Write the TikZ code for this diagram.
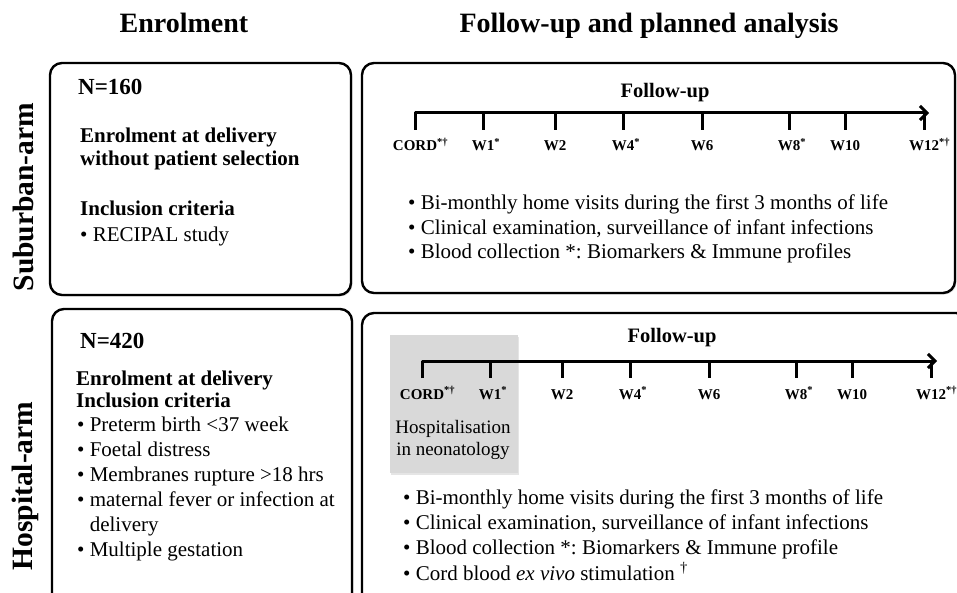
\documentclass[tikz,border=0pt]{standalone}
\usepackage{fontspec}
\setmainfont{Liberation Serif}
\usetikzlibrary{positioning}
\usetikzlibrary{arrows.meta}
\usetikzlibrary{shadows}
\usetikzlibrary{calc}
\usetikzlibrary{math}
\frenchspacing

% offsets of the visits along the follow-up line
\newcommand{\weeklist}{0/CORD\rlap{\textsuperscript{*\textdagger}},
  68/W1\rlap{\textsuperscript{*}}, 140/W2, 208/W4\rlap{\textsuperscript{*}},
  287/W6, 374/W8\rlap{\textsuperscript{*}}, 430/W10,
  509/W12\rlap{\textsuperscript{*\textdagger}}}

\tikzset{
  header/.style={font=\fontsize{28}{30}\selectfont\bfseries, inner sep=0pt},
  armlabel/.style={font=\fontsize{29.5}{31}\selectfont\bfseries, inner sep=0pt, rotate=90},
  countlabel/.style={font=\fontsize{23}{25}\selectfont\bfseries, inner sep=0pt, anchor=base west},
  boldtext/.style={font=\fontsize{21}{23.5}\selectfont\bfseries, inner sep=0pt, anchor=base west, align=left},
  lefttext/.style={font=\fontsize{21}{25}\selectfont, inner sep=0pt, anchor=base west, align=left},
  righttext/.style={font=\fontsize{21}{24.5}\selectfont, inner sep=0pt, anchor=base west, align=left},
  hosptext/.style={font=\fontsize{19}{22}\selectfont, inner sep=0pt, anchor=base, align=center},
  followtitle/.style={font=\fontsize{20.5}{22}\selectfont\bfseries, inner sep=0pt, anchor=base},
  weeklabel/.style={font=\fontsize{15}{16}\selectfont\bfseries, inner sep=0pt, anchor=base},
  armbox/.style={draw, line width=2.4pt, rounded corners=12pt, fill=white,
    drop shadow={opacity=0.25, shadow xshift=1.5pt, shadow yshift=-1.5pt}},
  hospbox/.style={fill=black!15, drop shadow={opacity=0.2, shadow xshift=1pt, shadow yshift=-1.5pt}},
  timeline/.style={line width=3pt, -{Straight Barb[length=7pt, width=14pt]}},
  tick/.style={line width=3pt},
}

\begin{document}
\begin{tikzpicture}[x=1pt, y=-1pt, line join=round]

  \tikzmath{
    \tickdrop = 17; % length of the week ticks
    \labdrop  = 38; % line to baseline of the week labels
  }

  \useasboundingbox (0,0) rectangle (957,593);

  % column headers
  \node[header, anchor=base] (enrolhead)  at (184,33) {Enrolment};
  \node[header, anchor=base] (followhead) at (649,33) {Follow-up and planned analysis};

  % arm labels
  \node[armlabel] (subarm)  at (23,197) {Suburban-arm};
  \node[armlabel] (hosparm) at (25,486) {Hospital-arm};

  % boxes
  \draw[armbox] (50,63)  rectangle (351,295);
  \draw[armbox] (362,63) rectangle (955,293);
  \draw[armbox] (52,309) rectangle (352,610);
  \draw[armbox] (362,313) rectangle (968,610);

  % suburban arm, enrolment (multi-line nodes sit on their last baseline)
  \node[countlabel] (n160) at (78,95) {N=160};
  \node[boldtext] (subenrol) at (80,166) {Enrolment at delivery\\without patient selection};
  \node[boldtext] (subcrit) at (80,216) {Inclusion criteria};
  \node[lefttext] (subitems) at (80,242) {\textbullet\ RECIPAL study};

  % suburban arm, follow-up
  \coordinate (S0) at (415,113);
  \coordinate (S1) at (929,113);
  \node[followtitle] (subfollow) at (665,98) {Follow-up};
  \draw[timeline] ($(S0)+(0,\tickdrop)$) -- (S0) -- (S1);
  \foreach \dx/\lab [count=\i] in \weeklist {
    \draw[tick] ($(S0)+(\dx,0)$) -- ++(0,\tickdrop);
    \node[weeklabel] (sw\i) at ($(S0)+(\dx,\labdrop)$) {\lab};
  }
  \node[righttext] (subvisits) at (408,259)
    {\textbullet\ Bi-monthly home visits during the first 3 months of life\\
     \textbullet\ Clinical examination, surveillance of infant infections\\
     \textbullet\ Blood collection *: Biomarkers \& Immune profiles};

  % hospital arm, enrolment
  \node[countlabel] (n420) at (80,348) {N=420};
  \node[boldtext, font=\fontsize{21}{22}\selectfont\bfseries] (hospenrol) at (76,407)
    {Enrolment at delivery\\Inclusion criteria};
  \node[lefttext] (hospitems) at (77,556)
    {\textbullet\ Preterm birth <37 week\\
     \textbullet\ Foetal distress\\
     \textbullet\ Membranes rupture >18 hrs\\
     \textbullet\ maternal fever or infection at\\
     \hphantom{\textbullet\ }delivery\\
     \textbullet\ Multiple gestation};

  % hospital arm, follow-up
  \fill[hospbox] (390,335) rectangle (518,473);
  \coordinate (H0) at (422,361);
  \coordinate (H1) at (937,361);
  \node[followtitle] (hospfollow) at (672,342) {Follow-up};
  \draw[timeline] ($(H0)+(0,\tickdrop)$) -- (H0) -- (H1);
  \foreach \dx/\lab [count=\i] in \weeklist {
    \draw[tick] ($(H0)+(\dx,0)$) -- ++(0,\tickdrop);
    \node[weeklabel] (hw\i) at ($(H0)+(\dx,\labdrop)$) {\lab};
  }
  \node[hosptext] (neonat) at (453,455) {Hospitalisation\\in neonatology};
  \node[righttext, font=\fontsize{21}{25.3}\selectfont] (hospvisits) at (403,580)
    {\textbullet\ Bi-monthly home visits during the first 3 months of life\\
     \textbullet\ Clinical examination, surveillance of infant infections\\
     \textbullet\ Blood collection *: Biomarkers \& Immune profile\\
     \textbullet\ Cord blood \emph{ex vivo} stimulation \textsuperscript{\textdagger}};

\end{tikzpicture}
\end{document}
